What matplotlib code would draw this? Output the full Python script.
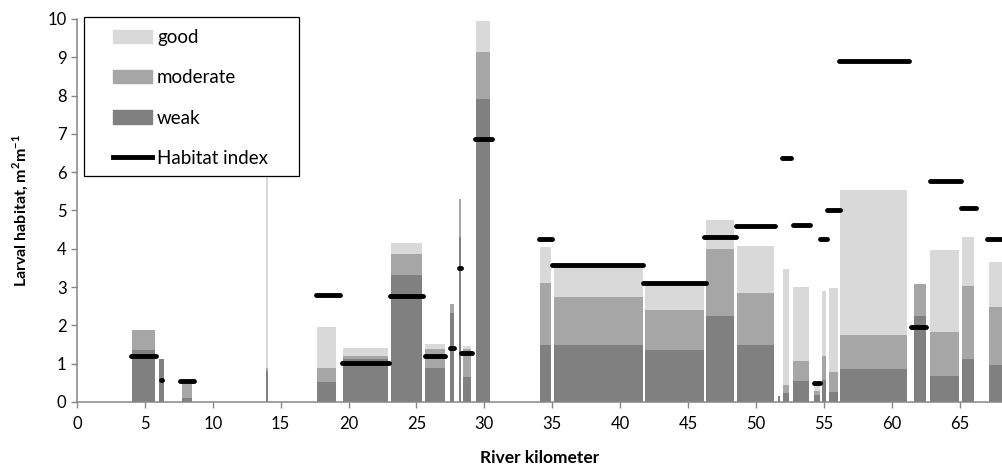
import matplotlib
matplotlib.use("Agg")
import matplotlib.pyplot as plt
import numpy as np
from matplotlib.patches import Patch, Rectangle
from matplotlib.lines import Line2D

plt.rcParams['font.family'] = ['Lato', 'DejaVu Sans']
plt.rcParams['mathtext.fontset'] = 'custom'
plt.rcParams['mathtext.rm'] = 'Lato'
plt.rcParams['mathtext.bf'] = 'Lato:bold'

# habitat segments along the river (km) and larval habitat per class
seg_start = [4.03, 6.05, 7.7, 13.95, 17.66, 19.6, 23.14, 25.65, 27.45, 28.15,
             28.42, 29.4, 34.07, 35.1, 41.8, 46.3, 48.6, 51.66, 52.0, 52.7,
             54.3, 54.87, 55.37, 56.23, 61.63, 62.86, 65.2, 67.16]
seg_end = [5.75, 6.4, 8.5, 14.1, 19.06, 22.9, 25.4, 27.1, 27.8, 28.3,
           29.0, 30.4, 34.93, 41.68, 46.15, 48.4, 51.36, 51.8, 52.47, 53.9,
           54.75, 55.2, 56.05, 61.14, 62.5, 64.97, 66.05, 70.0]
weak = [1.37, 1.13, 0.10, 0.80, 0.52, 1.12, 3.32, 0.88, 2.32, 4.30,
        0.66, 7.92, 1.49, 1.49, 1.36, 2.25, 1.48, 0.15, 0.23, 0.56,
        0.18, 0.58, 0.27, 0.86, 2.25, 0.68, 1.13, 0.97]
moderate = [0.51, 0.00, 0.45, 0.10, 0.36, 0.08, 0.55, 0.50, 0.24, 1.00,
            0.72, 1.23, 1.63, 1.24, 1.05, 1.75, 1.37, 0.00, 0.22, 0.52,
            0.12, 0.62, 0.51, 0.88, 0.83, 1.16, 1.89, 1.52]
good = [0.00, 0.00, 0.00, 5.30, 1.09, 0.20, 0.28, 0.14, 0.00, 0.00,
        0.07, 0.80, 0.93, 0.81, 0.67, 0.76, 1.23, 0.00, 3.02, 1.92,
        0.20, 1.70, 2.19, 3.79, 0.00, 2.14, 1.29, 1.16]

# habitat index per stretch
hi_start = [4.0, 6.15, 7.6, 17.6, 19.5, 23.07, 25.6, 27.5, 28.15, 28.3,
            29.3, 34.0, 35.0, 41.7, 46.2, 48.5, 51.9, 52.7, 54.3, 54.75,
            55.25, 56.1, 61.46, 62.8, 65.12, 67.0]
hi_end = [5.8, 6.25, 8.6, 19.4, 23.0, 25.5, 27.1, 27.75, 28.25, 29.1,
          30.55, 35.0, 41.7, 46.3, 48.5, 51.4, 52.6, 54.0, 54.7, 55.27,
          56.2, 61.3, 62.5, 65.07, 66.2, 70.0]
hi_val = [1.21, 0.58, 0.55, 2.80, 1.01, 2.76, 1.21, 1.42, 3.50, 1.27,
          6.86, 4.26, 3.59, 3.12, 4.31, 4.59, 6.38, 4.61, 0.50, 4.26,
          5.00, 8.90, 1.95, 5.77, 5.07, 4.26]

c_weak, c_mod, c_good = '#808080', '#a6a6a6', '#d9d9d9'
axis_gray = '#868686'

start = np.array(seg_start)
width = np.array(seg_end) - start
w = np.array(weak)
m = np.array(moderate)
g = np.array(good)

fig = plt.figure(figsize=(10.03, 4.70), dpi=100)
ax = fig.add_axes([77 / 1003, 1 - 402 / 470, 926 / 1003, 383 / 470])

ax.bar(start, w, width=width, align='edge', color=c_weak, linewidth=0)
ax.bar(start, m, width=width, bottom=w, align='edge', color=c_mod, linewidth=0)
ax.bar(start, g, width=width, bottom=w + m, align='edge', color=c_good, linewidth=0)

for x0, x1, v in zip(hi_start, hi_end, hi_val):
    ax.plot([x0, x1], [v, v], color='black', lw=3.5, solid_capstyle='round', zorder=3)

ax.set_xlim(0, 68.2)
ax.set_ylim(0, 10)
ax.set_xticks(np.arange(0, 70, 5))
ax.set_yticks(np.arange(0, 11, 1))
for s in ['top', 'right']:
    ax.spines[s].set_visible(False)
for s in ['left', 'bottom']:
    ax.spines[s].set_color(axis_gray)
    ax.spines[s].set_linewidth(1.1)
ax.tick_params(axis='both', colors=axis_gray, labelcolor='black', labelsize=12,
               length=4, width=1)
ax.tick_params(axis='x', pad=6)

ax.set_xlabel('River kilometer', fontsize=12.5, fontweight='bold', labelpad=13)
ax.set_ylabel(r'Larval habitat, m$^\mathbf{2}$m$^\mathbf{-1}$', fontsize=11.5,
              fontweight='bold', labelpad=12)

# legend with a manual frame
frame = Rectangle(((84 - 77) / 926, (402 - 176) / 383), 215 / 926, 159 / 383,
                  transform=ax.transAxes, facecolor='white', edgecolor='black',
                  lw=0.9, clip_on=False, zorder=4)
ax.add_patch(frame)
handles = [Patch(color=c_good, label='good'),
           Patch(color=c_mod, label='moderate'),
           Patch(color=c_weak, label='weak'),
           Line2D([], [], color='black', lw=3.5, label='Habitat index')]
leg = ax.legend(handles=handles, loc='upper left', frameon=False,
                bbox_to_anchor=((113 - 77) / 926, (402 - 29) / 383),
                borderpad=0, borderaxespad=0, fontsize=13.5, handlelength=2.1,
                handletextpad=0.25, labelspacing=1.24)
leg.set_zorder(5)

fig.savefig('out.png', dpi=100)
